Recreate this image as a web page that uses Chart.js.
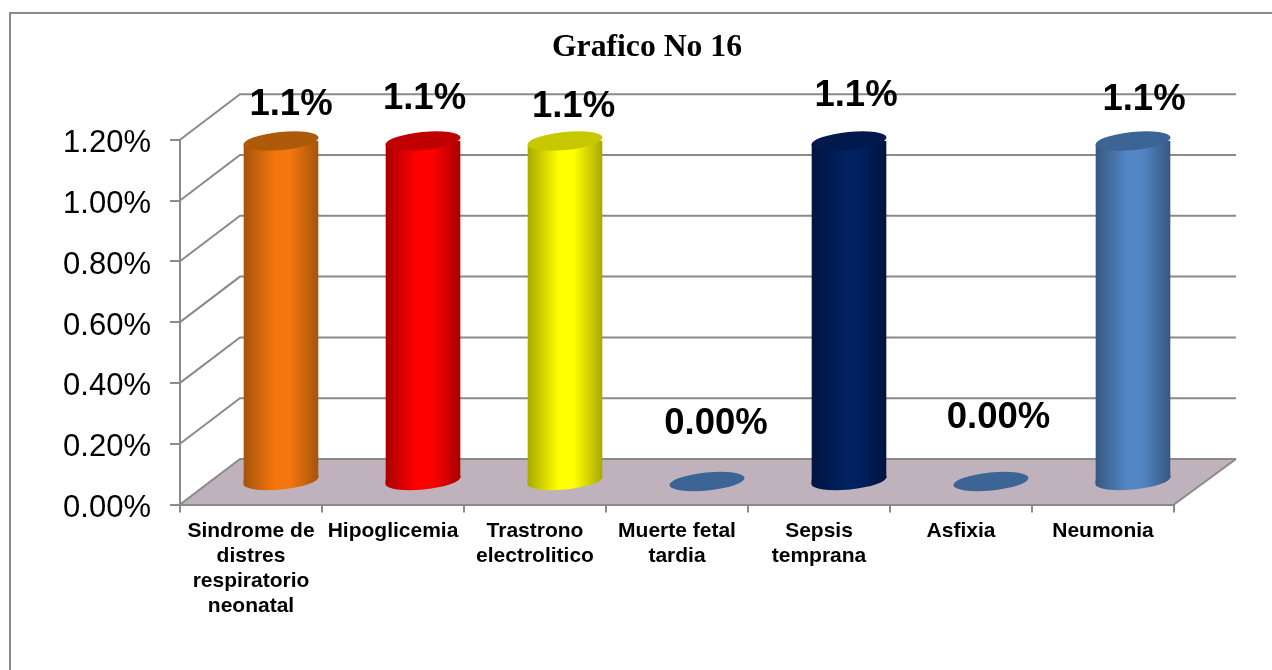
<!DOCTYPE html>
<html>
<head>
<meta charset="utf-8">
<style>html,body{margin:0;padding:0;background:#fff;overflow:hidden}canvas{display:block}</style>
<script src="https://cdn.jsdelivr.net/npm/chart.js@4"></script>
</head>
<body>
<canvas id="c" width="1272" height="670"></canvas>
<script>
const categories = [
  ['Sindrome de','distres','respiratorio','neonatal'],
  'Hipoglicemia',
  ['Trastrono','electrolitico'],
  ['Muerte fetal','tardia'],
  ['Sepsis','temprana'],
  'Asfixia',
  'Neumonia'
];
const values = [1.12, 1.12, 1.12, 0, 1.12, 0, 1.12];
const valueLabels = ['1.1%','1.1%','1.1%','0.00%','1.1%','0.00%','1.1%'];
const edgeColors = ['#a3540b','#a80000','#a8a800','#3c6494','#00143f','#3c6494','#37587f'];
const midColors = ['#f5760d','#ff0000','#ffff00','#3c6494','#002060','#3c6494','#5286c4'];
const capColors = ['#ad5a0a','#c00000','#c8c800','#3c6494','#001a4d','#3c6494','#3c6494'];
const labelShift = [[10,-36],[1.5,-42],[8.5,-34],[9,-58],[7,-45],[7.5,-64],[11,-41]];

const FRAME = '#8a8a8a', FLOOR = '#c0b2bc';
const WALL_DX = 60, WALL_DY = -45.5, BAR_DX = 30, BAR_DY = -23, TILT = 3.6;

function capPath(ctx, x, y, w) {
  ctx.beginPath();
  ctx.ellipse(x, y, w / 2 * 1.005, w / 2 * 0.24, -0.098, 0, Math.PI * 2);
}
function barGradient(ctx, x, w, i) {
  const g = ctx.createLinearGradient(x - w / 2, 0, x + w / 2, 0);
  g.addColorStop(0, edgeColors[i]);
  g.addColorStop(0.42, midColors[i]);
  g.addColorStop(0.62, midColors[i]);
  g.addColorStop(1, edgeColors[i]);
  return g;
}

const scene = {
  id: 'scene',
  afterLayout(chart) {
    chart.titleBlock.left = 10;
    chart.titleBlock.right = 1284;
  },
  beforeDraw(chart) {
    const { ctx, scales: { x, y } } = chart;
    const L = x.left, R = x.right, B = y.bottom;
    ctx.save();
    ctx.fillStyle = '#fff';
    ctx.fillRect(0, 0, chart.width, chart.height);
    ctx.strokeStyle = FRAME;
    ctx.lineWidth = 2;
    ctx.strokeRect(10, 13, 1400, 800);
    ctx.fillStyle = FLOOR;
    ctx.beginPath();
    ctx.moveTo(L, B);
    ctx.lineTo(R, B);
    ctx.lineTo(R + WALL_DX + 2, B + WALL_DY);
    ctx.lineTo(L + WALL_DX, B + WALL_DY);
    ctx.closePath();
    ctx.fill();
    y.ticks.forEach(t => {
      const p = y.getPixelForValue(t.value);
      ctx.beginPath();
      ctx.moveTo(L, p);
      ctx.lineTo(L + WALL_DX, p + WALL_DY);
      ctx.lineTo(R + WALL_DX + 2, p + WALL_DY);
      ctx.stroke();
    });
    ctx.beginPath();
    ctx.moveTo(R, B);
    ctx.lineTo(R + WALL_DX + 2, B + WALL_DY);
    ctx.stroke();
    ctx.restore();
  },
  beforeDatasetsDraw(chart) {
    const { ctx } = chart;
    const bars = chart.getDatasetMeta(0).data;
    ctx.save();
    ctx.translate(BAR_DX, BAR_DY);
    bars.forEach((b, i) => {
      if (!values[i]) return;
      const h = b.width / 2;
      ctx.fillStyle = barGradient(ctx, b.x, b.width, i);
      capPath(ctx, b.x, b.base, b.width);
      ctx.fill();
      ctx.beginPath();
      ctx.moveTo(b.x - h, b.base - 1);
      ctx.lineTo(b.x + h, b.base - TILT - 1);
      ctx.lineTo(b.x + h, b.base - TILT);
      ctx.lineTo(b.x - h, b.base + TILT);
      ctx.closePath();
      ctx.fill();
    });
    ctx.beginPath();
    bars.forEach((b, i) => {
      if (!values[i]) return;
      const h = b.width / 2;
      ctx.moveTo(b.x - h, b.y + TILT);
      ctx.lineTo(b.x + h, b.y - TILT);
      ctx.lineTo(b.x + h, b.base - TILT);
      ctx.lineTo(b.x - h, b.base);
      ctx.closePath();
    });
    ctx.clip();
  },
  afterDatasetsDraw(chart) {
    const { ctx } = chart;
    const bars = chart.getDatasetMeta(0).data;
    ctx.restore();
    ctx.save();
    ctx.translate(BAR_DX, BAR_DY);
    bars.forEach((b, i) => {
      capPath(ctx, b.x, b.y, b.width);
      ctx.fillStyle = capColors[i];
      ctx.fill();
    });
    ctx.restore();
    ctx.save();
    ctx.fillStyle = '#000';
    ctx.font = 'bold 36.5px "Liberation Sans"';
    ctx.textAlign = 'center';
    ctx.textBaseline = 'middle';
    bars.forEach((b, i) => {
      ctx.fillText(valueLabels[i], b.x + BAR_DX + labelShift[i][0], b.y + BAR_DY + labelShift[i][1]);
    });
    ctx.restore();
  }
};

new Chart(document.getElementById('c'), {
  type: 'bar',
  plugins: [scene],
  data: {
    labels: categories,
    datasets: [{
      data: values,
      clip: false,
      borderWidth: 0,
      categoryPercentage: 1,
      barPercentage: 0.529,
      backgroundColor(c) {
        const ch = c.chart, xs = ch.scales.x;
        if (!xs || c.dataIndex === undefined) return midColors[0];
        const w = xs.width / categories.length * 0.529;
        const px = xs.getPixelForValue(c.dataIndex);
        if (!isFinite(px) || !isFinite(w)) return midColors[c.dataIndex];
        return barGradient(ch.ctx, px, w, c.dataIndex);
      }
    }]
  },
  options: {
    responsive: false,
    animation: false,
    layout: { padding: { left: 0, right: 98, top: 0, bottom: 0 } },
    plugins: {
      legend: { display: false },
      tooltip: { enabled: false },
      title: {
        display: true,
        text: 'Grafico No 16',
        color: '#000',
        font: { family: '"Liberation Serif"', size: 31.7, weight: 'bold', lineHeight: 1.2 },
        padding: { top: 28.6, bottom: 73.06 }
      }
    },
    scales: {
      x: {
        afterFit(s) { s.height = 165.5; },
        grid: { drawOnChartArea: false, color: FRAME, lineWidth: 2, tickLength: 8 },
        border: { color: FRAME, width: 2 },
        ticks: {
          color: '#000', maxRotation: 0, minRotation: 0, autoSkip: false, padding: 6,
          font: { family: '"Liberation Sans"', size: 21, weight: 'bold', lineHeight: 1.19 }
        }
      },
      y: {
        min: 0, max: 1.2,
        afterFit(s) { s.width = 180; },
        grid: { drawOnChartArea: false, color: FRAME, lineWidth: 2, tickLength: 10 },
        border: { color: FRAME, width: 2 },
        ticks: {
          color: '#000', stepSize: 0.2, padding: 19, labelOffset: 4,
          font: { family: '"Liberation Sans"', size: 31 },
          callback: v => v.toFixed(2) + '%'
        }
      }
    }
  }
});
</script>
</body>
</html>
